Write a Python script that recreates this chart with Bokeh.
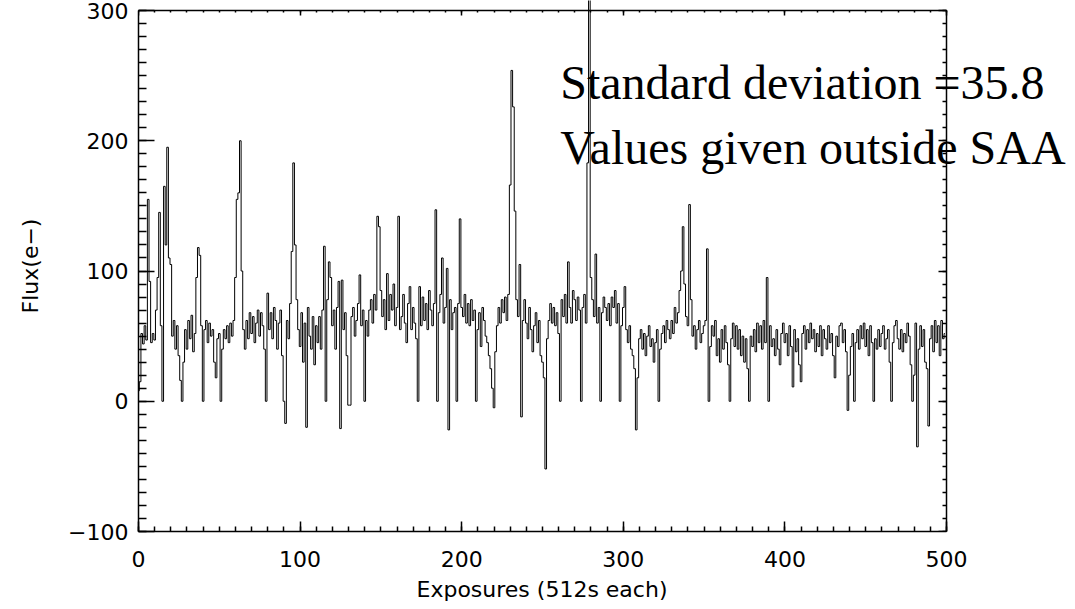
from bokeh.plotting import figure
from bokeh.models import LinearAxis, SingleIntervalTicker, FixedTicker, Range1d, Label, Title
from bokeh.embed import file_html
from bokeh.resources import INLINE

# Flux per exposure (e-), exposures 0..499
flux = [
    8, 15, 52, 44, 58, 47, 155, 92, 45, 52,
    47, 70, 95, 145, 58, 0, 165, 120, 195, 110,
    105, 50, 62, 40, 58, 35, 16, 0, 30, 55,
    40, 62, 48, 66, 38, 52, 95, 118, 112, 58,
    0, 55, 62, 45, 60, 50, 55, 30, 18, 48,
    52, 0, 40, 55, 48, 58, 45, 60, 50, 62,
    95, 155, 160, 200, 100, 55, 40, 62, 48, 68,
    52, 65, 45, 60, 70, 50, 68, 58, 40, 0,
    83, 55, 68, 48, 72, 62, 40, 60, 70, 35,
    0, -17, 62, 48, 75, 115, 183, 120, 78, 55,
    42, 68, 30, 60, -20, 72, 50, 40, 65, 28,
    58, 45, 65, 40, 70, 119, 0, 78, 107, 95,
    58, 70, 40, 72, 92, -21, 93, 55, 68, 35,
    -3, -3, 65, 72, 50, 62, 75, 97, 58, 70,
    0, 62, 50, 70, 78, 60, 82, 70, 142, 134,
    85, 65, 78, 55, 98, 62, 82, 70, 90, 58,
    72, 142, 55, 65, 82, 60, 45, 75, 88, 55,
    72, 60, 48, 0, 88, 58, 80, 62, 75, 55,
    85, 70, 58, 75, 147, 0, 68, 82, 110, 60,
    72, 102, -22, 78, 55, 68, 72, 0, 75, 140,
    72, 65, 82, 60, 75, 58, 78, 62, 70, 0,
    55, 68, 42, 72, 62, 50, 45, 35, 25, 10,
    -5, 38, 58, 72, 60, 78, 68, 80, 62, 82,
    166, 254, 226, 146, 78, 65, 105, -12, 62, 78,
    60, 48, 72, 55, 38, 58, 68, 45, 62, 35,
    30, 18, -52, 48, 62, 75, 60, 72, 58, 68,
    52, 0, 78, 65, 82, 60, 107, 72, 60, 85,
    78, 62, 80, 70, 0, 72, 82, 60, 183, 330,
    95, 78, 65, 113, 60, 72, 0, 68, 80, 72,
    62, 75, 58, 80, 72, 85, 60, 75, 0, 58,
    72, 88, 55, 45, 58, 40, 35, 25, -22, 18,
    48, 55, 40, 52, 35, 50, 58, 42, 48, 30,
    45, 55, 0, 40, 52, 58, 45, 62, 55, 48,
    62, 52, 72, 60, 68, 85, 100, 134, 90, 65,
    58, 151, 78, 50, 58, 40, 55, 62, 45, 52,
    58, 62, 117, 0, 42, 58, 50, 62, 35, 48,
    30, 55, 40, 58, 45, 28, 0, 48, 60, 42,
    58, 40, 55, 35, 50, 30, 48, 25, 0, 50,
    42, 55, 38, 60, 45, 58, 40, 62, 45, 95,
    0, 58, 42, 48, 35, 55, 40, 28, 52, 60,
    45, 52, 35, 58, 42, 11, 55, 38, 48, 28,
    15, 52, 58, 40, 55, 45, 60, 48, 55, 38,
    52, 42, 58, 35, 55, 48, 40, 58, 45, 52,
    35, 18, 50, 42, 58, 60, 45, 55, 38, -7,
    20, 42, 52, 0, 45, 55, 40, 58, 48, 60,
    42, 55, 35, 58, 45, 0, 48, 40, 55, 42,
    52, 58, 40, 48, 55, 30, 0, 45, 58, 62,
    48, 40, 55, 38, 52, 45, 60, 50, 28, 0,
    20, 60, -35, 40, 58, 42, 55, 30, 25, -19,
    48, 58, 38, 62, 45, 58, 35, 62, 48, 52,
]
exposures = list(range(len(flux)))

x_label = "Exposures (512s each)"
y_label = "Flux(e\u2212)"
note_lines = ["Standard deviation =35.8", "Values given outside SAA"]
note_y = [244.7, 194.8]

X_MIN, X_MAX = 0, 500
Y_MIN, Y_MAX = -100, 300
major_x = [0, 100, 200, 300, 400, 500]
major_y = [-100, 0, 100, 200, 300]
minor_x = list(range(0, 501, 10))
minor_y = list(range(-100, 301, 10))

TICK_FONT = "DejaVu Sans"
TICK_SIZE = "22px"

# frame covers the page to the right and top so the notes and the tall spike are not cut
p = figure(width=1075, height=609, output_backend="svg", toolbar_location=None,
           x_range=Range1d(X_MIN, X_MAX * 937 / 808),
           y_range=Range1d(Y_MIN, Y_MAX + 10 / 1.3025),
           min_border_left=138, min_border_right=0, min_border_top=0,
           min_border_bottom=78, x_axis_location=None, y_axis_location=None)
p.grid.visible = False
p.outline_line_color = None
p.background_fill_color = "white"
p.border_fill_color = "white"

def style(ax, tick_in, line=True):
    ax.axis_line_color = "black" if line else None
    ax.axis_line_width = 1.5
    ax.major_tick_line_color = "black"
    ax.minor_tick_line_color = "black"
    ax.major_tick_line_width = 1.5
    ax.minor_tick_line_width = 1.5
    ax.major_tick_in = tick_in
    ax.major_tick_out = 0
    ax.minor_tick_in = tick_in // 2
    ax.minor_tick_out = 0
    return ax

# labelled axes
xb = style(LinearAxis(ticker=SingleIntervalTicker(interval=100, num_minor_ticks=10),
                      bounds=(X_MIN, X_MAX)), 10)
yl = style(LinearAxis(ticker=SingleIntervalTicker(interval=100, num_minor_ticks=10),
                      bounds=(Y_MIN, Y_MAX)), 16)
for ax in (xb, yl):
    ax.major_label_text_font = TICK_FONT
    ax.major_label_text_font_size = TICK_SIZE
    ax.major_label_text_color = "black"
    ax.axis_label_text_font = TICK_FONT
    ax.axis_label_text_font_size = TICK_SIZE
    ax.axis_label_text_font_style = "normal"
    ax.axis_label_text_color = "black"
xb.axis_label = None
yl.axis_label = y_label
xb.major_label_standoff = 19
yl.major_label_standoff = 10
yl.axis_label_standoff = 22
p.add_layout(xb, "below")
p.add_layout(yl, "left")

# x axis title, centred under the 0..500 span of the axis
xt_title = Title(text=x_label, align="left", offset=278, standoff=10,
                 text_font=TICK_FONT, text_font_size=TICK_SIZE,
                 text_font_style="normal", text_color="black")
p.add_layout(xt_title, "below")

# mirrored unlabelled axes on top and right (ticks only)
def mirror(side, majors, minors, bounds, tick_len, loc):
    a = style(LinearAxis(ticker=FixedTicker(ticks=[], minor_ticks=minors),
                         bounds=bounds, fixed_location=loc), tick_len)
    b = style(LinearAxis(ticker=FixedTicker(ticks=[], minor_ticks=majors),
                         bounds=bounds, fixed_location=loc), tick_len * 2, line=False)
    b.minor_tick_in = tick_len
    for ax in (a, b):
        ax.major_label_text_font_size = "0px"
        p.add_layout(ax, side)

mirror("above", major_x, minor_x, (X_MIN, X_MAX), 5, Y_MAX)
mirror("right", major_y, minor_y, (Y_MIN, Y_MAX), 8, X_MAX)

p.step(exposures, flux, mode="center", line_color="black", line_width=1)

for txt, yv in zip(note_lines, note_y):
    p.add_layout(Label(x=261, y=yv, text=txt, text_font="Liberation Serif",
                       text_font_size="48px", text_color="black",
                       text_baseline="alphabetic", text_align="left"))

open("out.html", "w").write(file_html(p, INLINE))
